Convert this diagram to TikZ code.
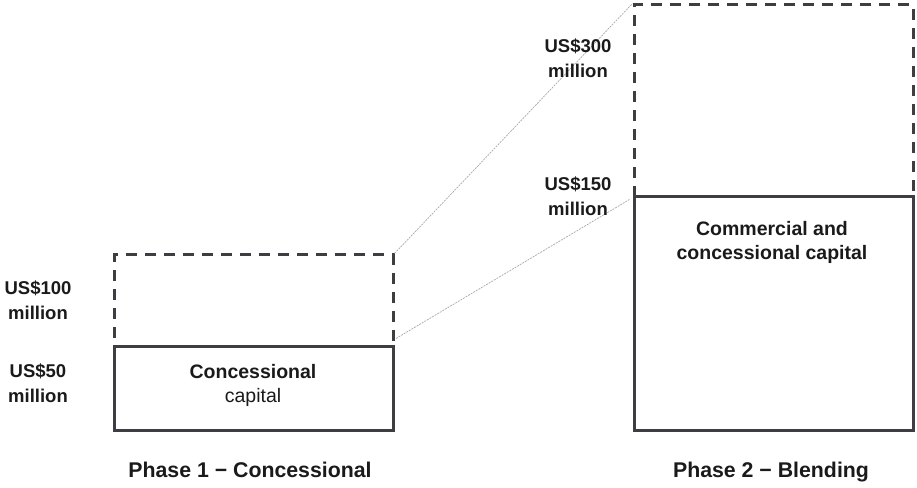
\documentclass[tikz,border=0pt]{standalone}
\usepackage{fontspec}
\setmainfont{Liberation Sans}
\usetikzlibrary{calc}
\definecolor{boxline}{HTML}{3E3E42}
\definecolor{txt}{HTML}{1A1A1A}
\definecolor{conn}{HTML}{A8A8A8}
\begin{document}
\begin{tikzpicture}[x=1pt,y=1pt,
  solidbox/.style={draw=boxline, line width=3pt, rectangle, inner sep=0pt, minimum width=279pt},
  dashbox/.style={draw=boxline, line width=3pt, rectangle, inner sep=0pt, minimum width=279pt, dash pattern=on 11pt off 8pt},
  amount/.style={text=txt, font=\bfseries\fontsize{18.5}{25}\selectfont, align=center, inner sep=0pt},
  inner/.style={text=txt, font=\bfseries\fontsize{19.5}{24}\selectfont, align=center, inner sep=0pt},
  phase/.style={text=txt, font=\bfseries\fontsize{21.3}{24}\selectfont, inner sep=0pt, anchor=base},
  link/.style={draw=conn, line width=0.7pt, dash pattern=on 2pt off 1pt}]
\useasboundingbox (0,0) rectangle (917,487);
% Phase 1
\node[dashbox, minimum height=92pt] (d1) at (253.5,186) {};
\node[solidbox, minimum height=83pt] (s1) at (253.5,98.5) {};
% Phase 2
\node[dashbox, minimum height=192pt] (d2) at (773.5,386) {};
\node[solidbox, minimum height=233pt] (s2) at (773.5,173.5) {};
% connectors
\coordinate (l1) at ($(d1.south east)+(1.5,10)$);
\coordinate (r1) at ($(s2.north west)+(-3,-4)$);
\draw[link] (d1.north east) -- (d2.north west);
\draw[link] (l1) -- (r1);
% texts
\node[inner] (t1) at (253,102) {Concessional\\\mdseries capital};
\node[inner] (t2) at (772,245) {Commercial and\\concessional capital};
\node[amount] (a100) at (38,187) {US\$100\\million};
\node[amount] (a50) at (38,104) {US\$50\\million};
\node[amount] (a300) at (578,429) {US\$300\\million};
\node[amount] (a150) at (578,291) {US\$150\\million};
\node[phase] (p1) at (250,10) {Phase 1 − Concessional};
\node[phase] (p2) at (771,10) {Phase 2 − Blending};
\end{tikzpicture}
\end{document}
